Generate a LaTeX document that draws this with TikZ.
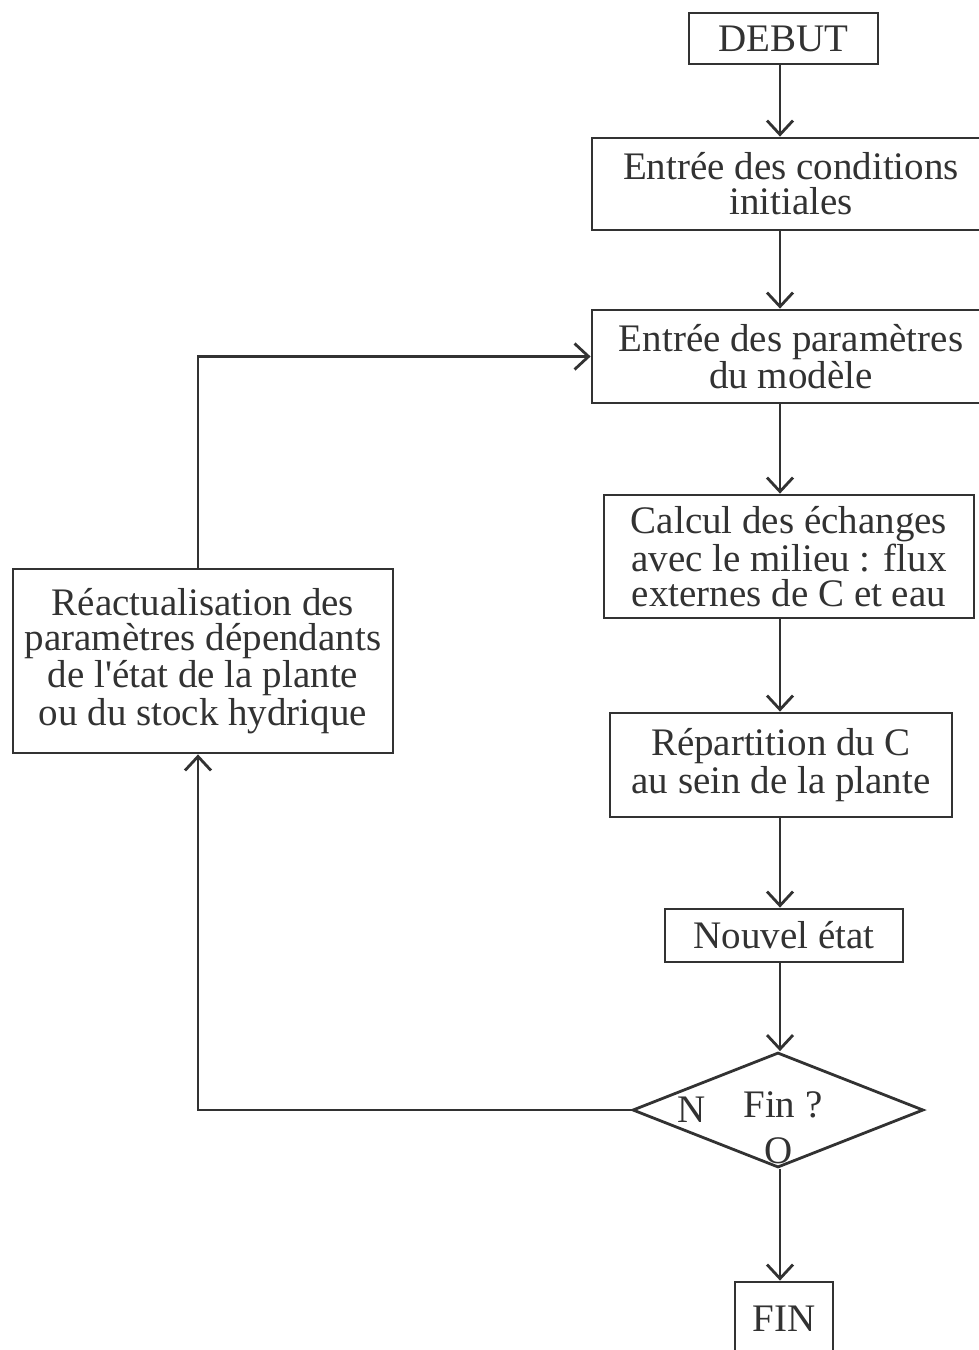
\documentclass[tikz,border=0pt]{standalone}
\usepackage{fontspec}
\setmainfont{Liberation Serif}
\usetikzlibrary{positioning, shapes.geometric, arrows.meta}
\definecolor{encre}{RGB}{50,50,50}
\tikzset{
    >={Straight Barb[length=7pt, width=13pt]}, % Open arrowheads
    every node/.style={text=encre, font=\fontsize{19.5}{17.5}\selectfont},
    boite/.style={draw=encre, line width=1.4pt, align=center, inner sep=2pt},
    losange/.style={draw=encre, line width=1.4pt, diamond, inner sep=0pt},
    fleche/.style={->, draw=encre, line width=1.4pt},
}

\begin{document}
\begin{tikzpicture}[x=0.5pt, y=-0.5pt]
        \path[use as bounding box] (0,0) rectangle (979,1350);
        \clip (0,0) rectangle (979,1350);

        % Main column
        \node (debut) [boite, minimum width=94.5pt, minimum height=25.5pt] at (783.5,38.5) {DEBUT};
        \node (cond) [boite, minimum width=199pt, minimum height=46pt] at (791,184) {Entrée des conditions\\initiales};
        \node (param) [boite, minimum width=199pt, minimum height=46.5pt] at (791,356.5) {Entrée des paramètres\\du modèle};
        \node (calcul) [boite, minimum width=185pt, minimum height=61.5pt] at (789,556.5) {Calcul des échanges\\avec le milieu : flux\\externes de C et eau};
        \node (repart) [boite, minimum width=171pt, minimum height=52pt] at (781,765) {Répartition du C\\au sein de la plante};
        \node (etat) [boite, minimum width=119pt, minimum height=26.5pt] at (784,935.5) {Nouvel état};
        \node (test) [losange, minimum width=145.5pt, minimum height=57.5pt] at (778,1110) {};
        \node (fin) [boite, minimum width=49pt, minimum height=37pt] at (784,1319) {FIN};

        % Test labels
        \node (question) at (783,1105) {Fin ?};
        \node (non) at (692,1110) {N};
        \node (oui) at (779,1151) {O};

        % Side box
        \node (maj) [boite, minimum width=190pt, minimum height=92pt] at (203,661) {Réactualisation des\\paramètres dépendants\\de l\textquotesingle état de la plante\\ou du stock hydrique};

        % Guide lines
        \coordinate (axe) at (780,0);
        \coordinate (boucle) at (198,0);

        % Transitions
        \draw[fleche] (debut.south -| axe) -- (cond.north -| axe);
        \draw[fleche] (cond.south -| axe) -- (param.north -| axe);
        \draw[fleche] (param.south -| axe) -- (calcul.north -| axe);
        \draw[fleche] (calcul.south -| axe) -- (repart.north -| axe);
        \draw[fleche] (repart.south -| axe) -- (etat.north -| axe);
        \draw[fleche] (etat.south -| axe) -- (test.north -| axe);
        \draw[fleche] (test.south -| axe) -- (fin.north -| axe);

        % Loop back
        \draw[fleche] (maj.north -| boucle) |- (param.west);
        \draw[fleche] (test.west) -| (maj.south -| boucle);
    \end{tikzpicture}
\end{document}
